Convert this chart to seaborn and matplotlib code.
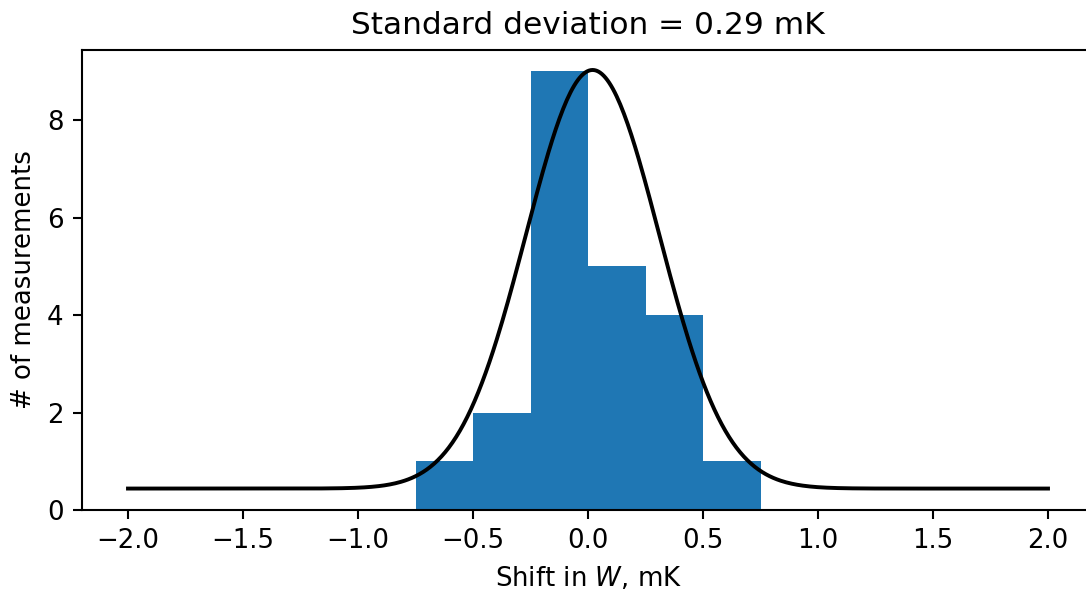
import numpy as np
import matplotlib
matplotlib.use("Agg")
import matplotlib.pyplot as plt
import seaborn as sns

# Histogram data
bin_edges = [-0.75, -0.5, -0.25, 0.0, 0.25, 0.5, 0.75]
bin_counts = [1, 2, 9, 5, 4, 1]

# Gaussian fit parameters
fit_offset = 0.44
fit_amplitude = 8.59
fit_mean = 0.02
fit_sigma = 0.29
fit_range = (-2.0, 2.0)

title_text = "Standard deviation = 0.29 mK"
xlabel_text = "Shift in $W$, mK"
ylabel_text = "# of measurements"

DPI = 187.5
fig = plt.figure(figsize=(1086 / DPI, 592 / DPI), dpi=DPI)
ax = fig.add_axes([82 / 1086, 1 - 510 / 592, 1012 / 1086, 460 / 592])

centers = [(bin_edges[i] + bin_edges[i + 1]) / 2 for i in range(len(bin_counts))]
sns.histplot(x=centers, weights=bin_counts, bins=bin_edges, ax=ax,
             color="#1f77b4", alpha=1.0, edgecolor="none", linewidth=0)

xs = np.linspace(fit_range[0], fit_range[1], 500)
ys = fit_offset + fit_amplitude * np.exp(-0.5 * ((xs - fit_mean) / fit_sigma) ** 2)
sns.lineplot(x=xs, y=ys, ax=ax, color="black", linewidth=1.5)

ax.set_xlim(-2.2, 2.2)
ax.set_ylim(0, 9.44)
ax.set_xticks([-2.0, -1.5, -1.0, -0.5, 0.0, 0.5, 1.0, 1.5, 2.0])
ax.set_yticks([0, 2, 4, 6, 8])
ax.set_title(title_text, fontsize=12)
ax.set_xlabel(xlabel_text, fontsize=10)
ax.set_ylabel(ylabel_text, fontsize=10)
ax.tick_params(labelsize=10)

fig.savefig("out.png", dpi=DPI)
